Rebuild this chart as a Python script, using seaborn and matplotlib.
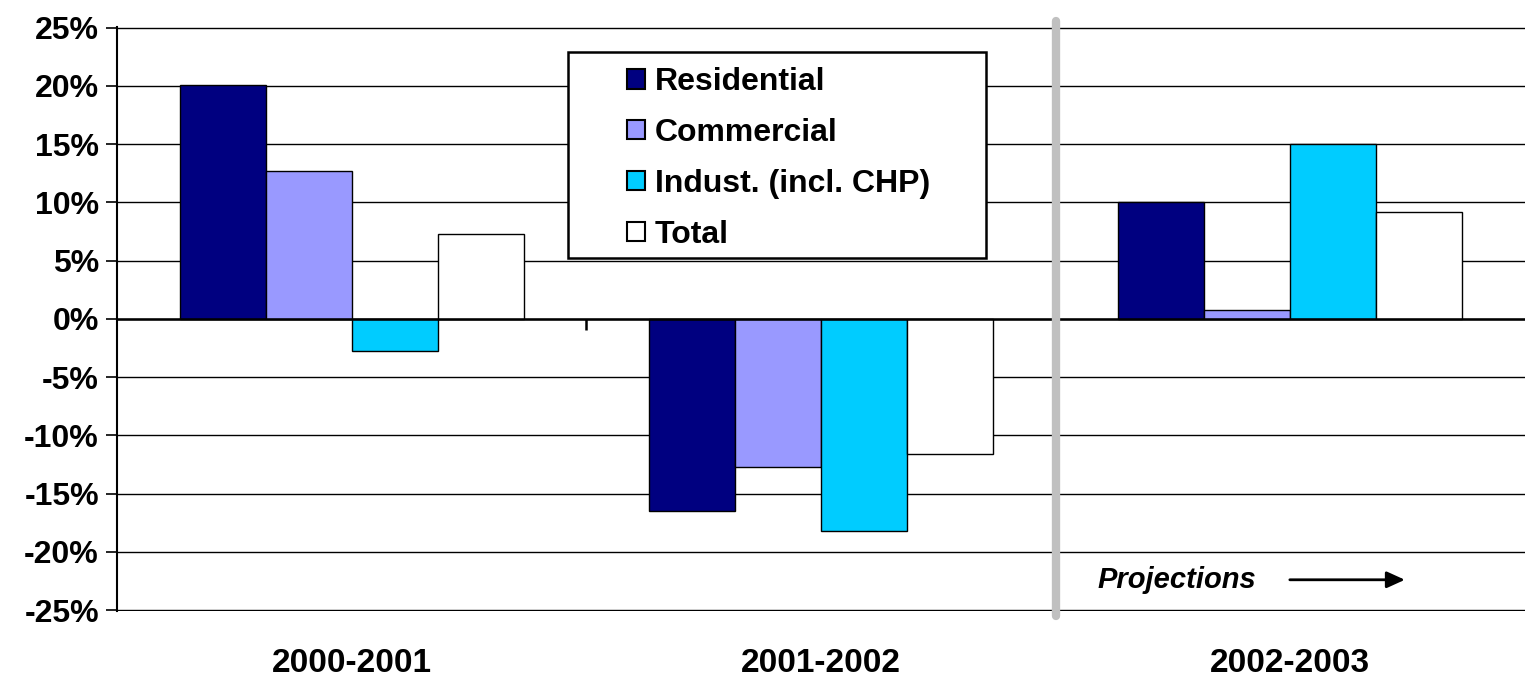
import matplotlib
matplotlib.use("Agg")
import matplotlib.pyplot as plt
from matplotlib.patches import Rectangle
from matplotlib.ticker import FuncFormatter
import seaborn as sns
import pandas as pd

periods = ["2000-2001", "2001-2002", "2002-2003"]
sectors = ["Residential", "Commercial", "Indust. (incl. CHP)", "Total"]
residential = [20.1, -16.5, 10.0]
commercial = [12.7, -12.7, 0.8]
industrial = [-2.8, -18.2, 15.0]
total = [7.3, -11.6, 9.2]
colors = ["#000080", "#9999ff", "#00ccff", "#ffffff"]

rows = []
for name, vals in zip(sectors, [residential, commercial, industrial, total]):
    for p, v in zip(periods, vals):
        rows.append({"period": p, "sector": name, "value": v})
df = pd.DataFrame(rows)

sns.set_style("white")
plt.rcParams["font.family"] = ["Liberation Sans", "DejaVu Sans"]
plt.rcParams["font.weight"] = "bold"
plt.rcParams["axes.unicode_minus"] = False
plt.rcParams["text.color"] = "black"
plt.rcParams["xtick.color"] = "black"
plt.rcParams["ytick.color"] = "black"
plt.rcParams["xtick.labelcolor"] = "black"
plt.rcParams["ytick.labelcolor"] = "black"

fig = plt.figure(figsize=(15.31, 6.77), dpi=100)
ax = fig.add_axes([117 / 1531, 66 / 677, (1525 - 117) / 1531, (611 - 27) / 677])

sns.barplot(data=df, x="period", y="value", hue="sector", order=periods,
            hue_order=sectors, palette=colors, width=0.733, gap=0,
            edgecolor="black", linewidth=1.0, saturation=1, ax=ax, zorder=3)
ax.get_legend().remove()

ax.set_xlim(-0.5, 2.5)
ax.set_ylim(-25.08, 25.05)
ax.set_yticks(list(range(-25, 30, 5)))
ax.yaxis.set_major_formatter(FuncFormatter(lambda v, p: f"{v:.0f}%"))
ax.set_xlabel("")
ax.set_ylabel("")
ax.grid(axis="y", color="black", linewidth=1.0, zorder=0)
ax.set_axisbelow(True)
for s in ["top", "right", "bottom"]:
    ax.spines[s].set_visible(False)
ax.spines["left"].set_color("black")
ax.spines["left"].set_linewidth(1.5)
ax.tick_params(axis="y", left=True, length=8, width=1.2, pad=5,
               labelsize=23, colors="black")
ax.tick_params(axis="x", bottom=False, length=0, pad=27, labelsize=24,
               colors="black")
for t in ax.get_xticklabels() + ax.get_yticklabels():
    t.set_fontweight("bold")
    t.set_color("black")

# zero axis with category divider tick
ax.axhline(0, color="black", linewidth=1.8, zorder=4)
ax.vlines([0.5], -1.0, 0, color="black", linewidth=1.8, zorder=4)

# projection separator
ax.axvline(1.5, ymin=-0.008, ymax=1.01, color="#c0c0c0", linewidth=6,
           solid_capstyle="round", clip_on=False, zorder=5)

ax.text(1.59, -22.4, "Projections", fontsize=21, fontstyle="italic",
        fontweight="bold", va="center", ha="left", color="black", zorder=6)
ax.annotate("", xy=(2.25, -22.4), xytext=(1.993, -22.4),
            arrowprops=dict(arrowstyle="-|>,head_length=1.1,head_width=0.5",
                            color="black", lw=2), zorder=6)

# legend
handles, labels = ax.get_legend_handles_labels()
fig.patches.append(Rectangle((568 / 1531, 1 - 258 / 677),
                             (986 - 568) / 1531, (258 - 52) / 677,
                             transform=fig.transFigure, facecolor="white",
                             edgecolor="black", linewidth=1.8, zorder=10))
leg = fig.legend(handles, labels, loc="upper left",
                 bbox_to_anchor=(605 / 1531, 1 - 45 / 677),
                 frameon=False, handlelength=0.55,
                 handleheight=0.55, handletextpad=0.3, labelspacing=0.65,
                 borderpad=0.2, prop={"weight": "bold", "size": 23})
leg.set_zorder(11)
for h in leg.legend_handles:
    h.set_edgecolor("black")
    h.set_linewidth(1.5)
for t in leg.get_texts():
    t.set_color("black")

fig.savefig("out.png", dpi=100)
